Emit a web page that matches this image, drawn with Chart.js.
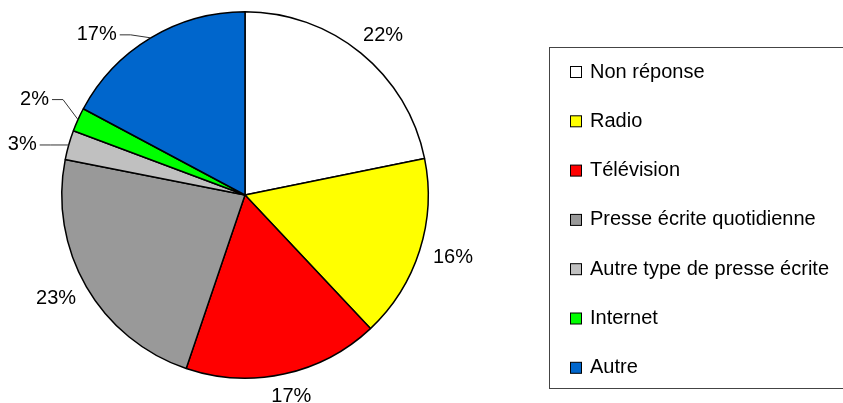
<!DOCTYPE html>
<html>
<head>
<meta charset="utf-8">
<script src="https://cdn.jsdelivr.net/npm/chart.js@4.4.0/dist/chart.umd.min.js"></script>
<style>
  body { margin: 0; background: #fff; }
  canvas { display: block; }
</style>
</head>
<body>
<canvas id="pieChart" width="843" height="403"></canvas>
<script>
const categories = ['Non réponse', 'Radio', 'Télévision', 'Presse écrite quotidienne',
  'Autre type de presse écrite', 'Internet', 'Autre'];
const shares = [21.8, 16.2, 17.2, 22.9, 2.6, 2.1, 17.2];
const sliceColors = ['#ffffff', '#ffff00', '#ff0000', '#999999', '#c0c0c0', '#00ff00', '#0066cc'];

// labels moved away from their slice, joined by a short leader line
const leaders = {
  4: { dx: -32, dy: 0 },
  5: { dx: -29, dy: -20 },
  6: { dx: -34, dy: -3 }
};

const labelFont = '20px "Liberation Sans", Arial, sans-serif';

const pieLabels = {
  id: 'pieLabels',
  afterDatasetsDraw(chart) {
    const ctx = chart.ctx;
    const meta = chart.getDatasetMeta(0);
    ctx.save();
    ctx.font = labelFont;
    ctx.fillStyle = '#000';
    ctx.textBaseline = 'middle';
    meta.data.forEach((arc, i) => {
      const p = arc.getProps(['x', 'y', 'startAngle', 'endAngle', 'outerRadius'], true);
      const mid = (p.startAngle + p.endAngle) / 2;
      const cos = Math.cos(mid), sin = Math.sin(mid);
      const text = Math.round(shares[i]) + '%';
      const w = ctx.measureText(text).width;
      const ax = p.x + p.outerRadius * cos;
      const ay = p.y + p.outerRadius * sin;
      const lead = leaders[i];
      if (lead) {
        const tx = ax + lead.dx;
        const ty = ay + lead.dy;
        ctx.strokeStyle = '#333';
        ctx.lineWidth = 1;
        ctx.beginPath();
        ctx.moveTo(tx + 3, ty);
        ctx.lineTo(tx + 14, ty);
        ctx.lineTo(ax, ay);
        ctx.stroke();
        ctx.textAlign = 'right';
        ctx.fillText(text, tx, ty);
      } else {
        const d = 15;
        const cx = ax + d * cos + (w / 2) * cos;
        const cy = ay + d * sin + 8 * sin;
        ctx.textAlign = 'center';
        ctx.fillText(text, cx, cy);
      }
    });
    ctx.restore();
  }
};

const boxLegend = {
  id: 'boxLegend',
  afterDraw(chart) {
    const ctx = chart.ctx;
    ctx.save();
    ctx.strokeStyle = '#444';
    ctx.lineWidth = 1;
    ctx.strokeRect(549.5, 47.5, 310, 341);
    ctx.font = labelFont;
    ctx.textAlign = 'left';
    ctx.textBaseline = 'middle';
    categories.forEach((name, i) => {
      const y = 72 + i * 49.3;
      ctx.fillStyle = sliceColors[i];
      ctx.fillRect(570.5, y - 5.5, 11, 11);
      ctx.strokeStyle = '#000';
      ctx.strokeRect(570.5, y - 5.5, 11, 11);
      ctx.fillStyle = '#000';
      ctx.fillText(name, 590, y);
    });
    ctx.restore();
  }
};

new Chart(document.getElementById('pieChart').getContext('2d'), {
  type: 'pie',
  data: {
    labels: categories,
    datasets: [{
      data: shares,
      backgroundColor: sliceColors,
      borderColor: '#000',
      borderWidth: 1.5
    }]
  },
  options: {
    responsive: false,
    animation: false,
    layout: { padding: { left: 61, top: 11, right: 414, bottom: 24 } },
    plugins: {
      legend: { display: false },
      tooltip: { enabled: false }
    }
  },
  plugins: [pieLabels, boxLegend]
});
</script>
</body>
</html>
